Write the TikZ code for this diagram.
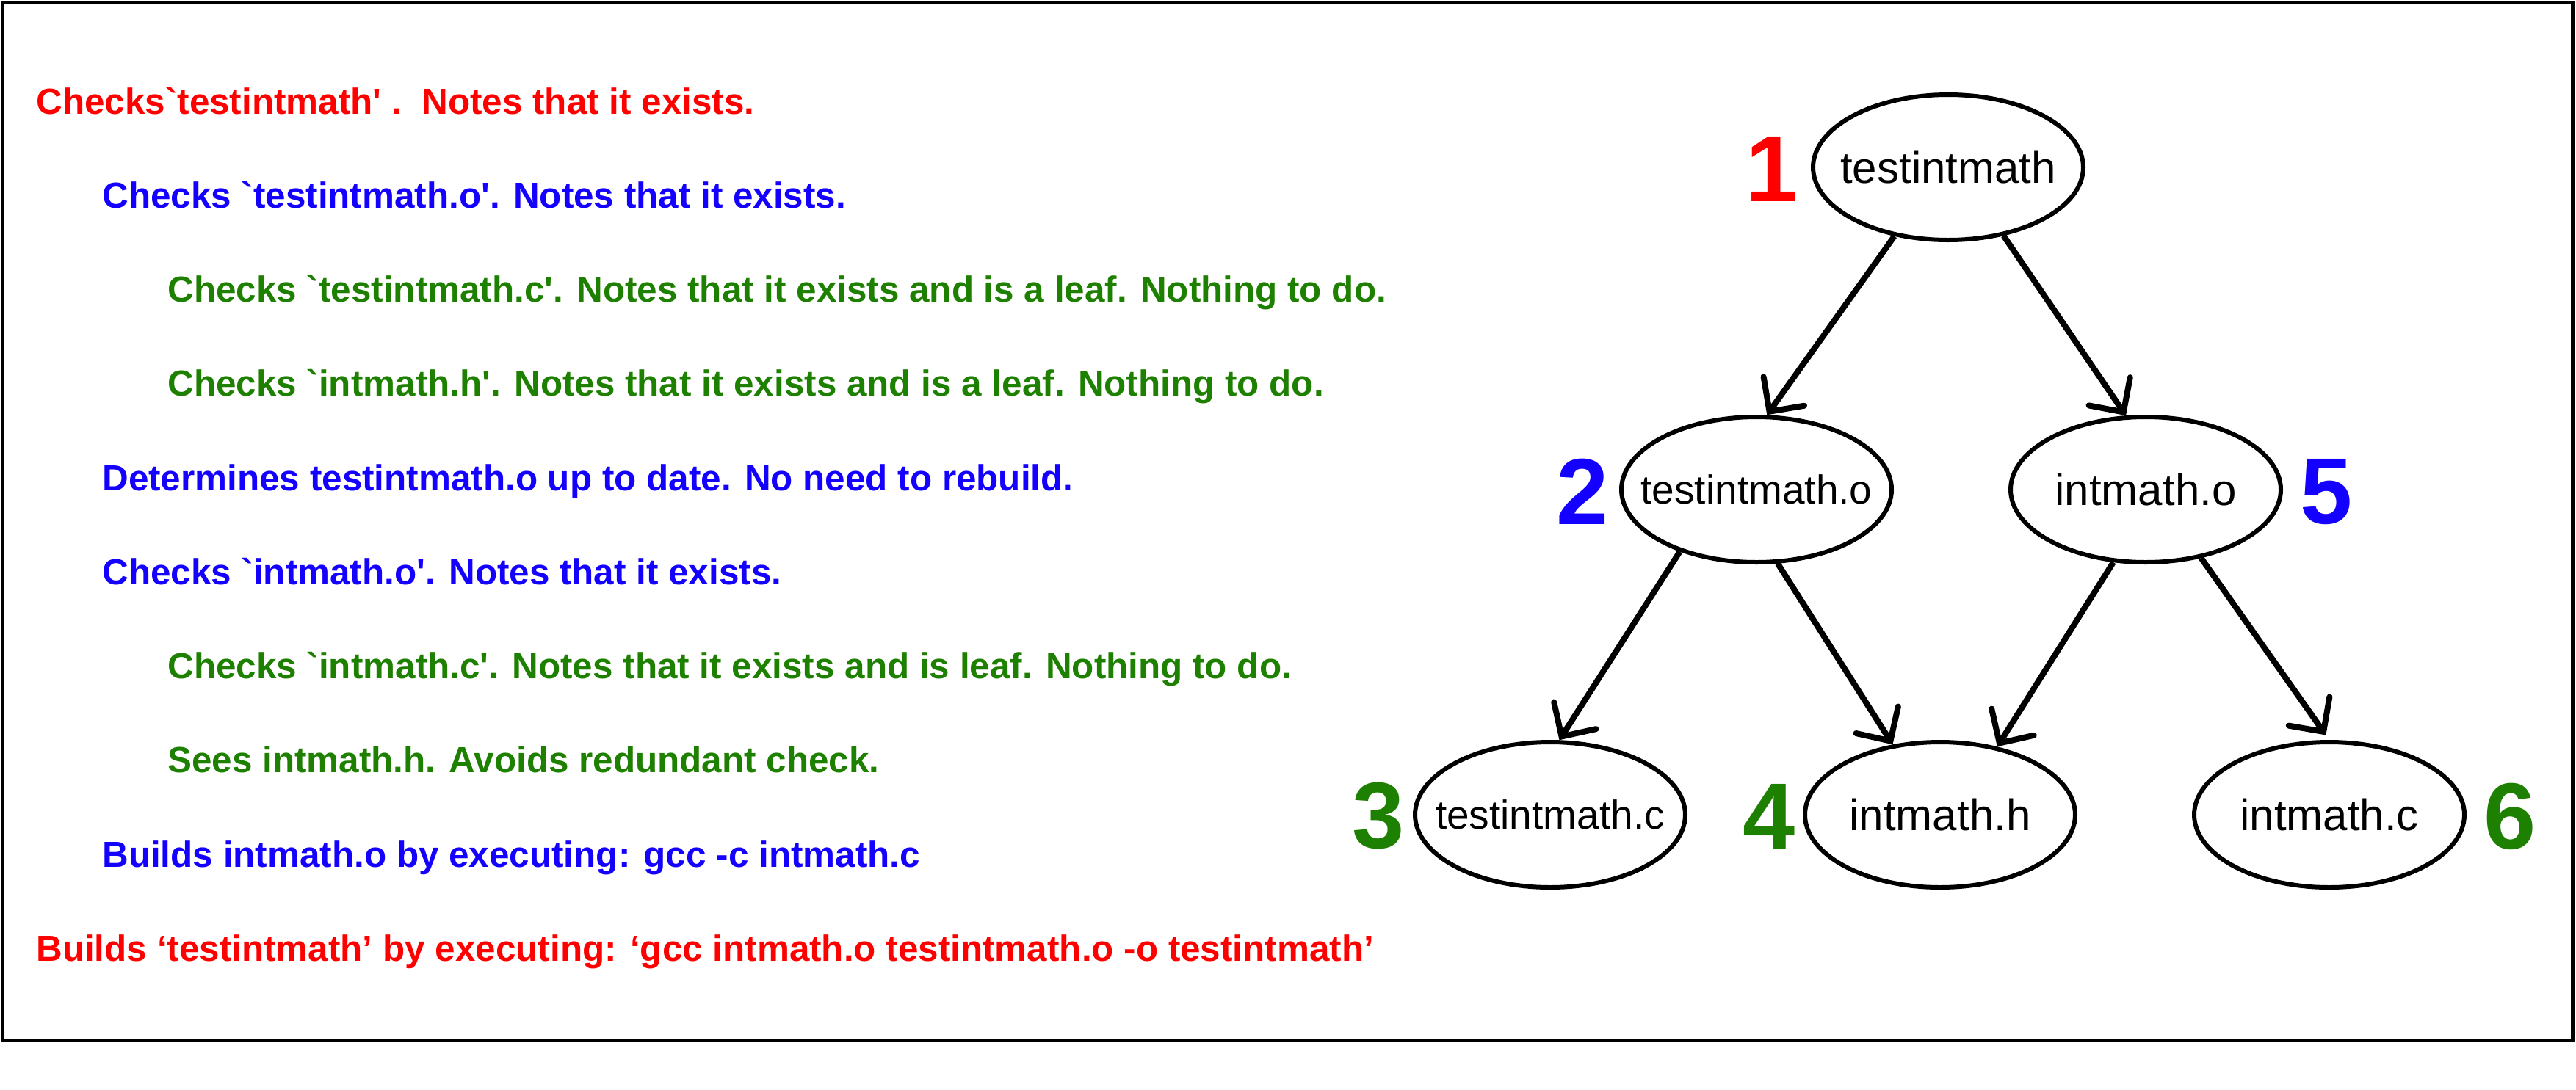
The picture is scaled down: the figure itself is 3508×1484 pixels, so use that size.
\documentclass[tikz,border=0pt]{standalone}
\usepackage{fontspec}
\setmainfont{Liberation Sans}[Ligatures=TeXOff]
\usetikzlibrary{arrows.meta,shapes.geometric}
\definecolor{cred}{RGB}{255,0,0}
\definecolor{cblue}{RGB}{20,0,255}
\definecolor{cgreen}{RGB}{30,128,0}
\begin{document}
\begin{tikzpicture}[x=0.5pt,y=-0.5pt,
  msg/.style={font=\fontsize{24.7}{29}\selectfont\bfseries, anchor=base west, inner sep=0pt},
  file/.style={ellipse, draw, line width=3pt, minimum width=184pt, minimum height=99pt, inner sep=0pt, font=\fontsize{30}{36}\selectfont},
  smallfile/.style={file, font=\fontsize{27.5}{33}\selectfont},
  num/.style={font=\fontsize{64}{64}\selectfont\bfseries, inner sep=0pt},
  arr/.style={line width=4pt, -{Straight Barb[length=17pt,width=34pt,line cap=round]}}]
\useasboundingbox (0,0) rectangle (3508,1484);
\draw[line width=2.5pt] (3,3) rectangle (3503,1417);

% messages
\node[msg, text=cred]   (m1)  at (49,155)   {Checks`testintmath' .\ \ Notes that it exists.};
\node[msg, text=cblue]  (m2)  at (139,283)  {Checks `testintmath.o'. Notes that it exists.};
\node[msg, text=cgreen] (m3)  at (228,411)  {Checks `testintmath.c'. Notes that it exists and is a leaf. Nothing to do.};
\node[msg, text=cgreen] (m4)  at (228,539)  {Checks `intmath.h'. Notes that it exists and is a leaf. Nothing to do.};
\node[msg, text=cblue]  (m5)  at (139,668)  {Determines testintmath.o up to date. No need to rebuild.};
\node[msg, text=cblue]  (m6)  at (139,796)  {Checks `intmath.o'. Notes that it exists.};
\node[msg, text=cgreen] (m7)  at (228,924)  {Checks `intmath.c'. Notes that it exists and is leaf. Nothing to do.};
\node[msg, text=cgreen] (m8)  at (228,1052) {Sees intmath.h. Avoids redundant check.};
\node[msg, text=cblue]  (m9)  at (139,1181) {Builds intmath.o by executing: gcc -c intmath.c};
\node[msg, text=cred]   (m10) at (49,1309)  {Builds ‘testintmath’ by executing: ‘gcc intmath.o testintmath.o -o testintmath’};

% tree
\node[file]      (n1) at (2653,228)  {\makebox[0pt]{testintmath}};
\node[smallfile] (n2) at (2392,667)  {\makebox[0pt]{testintmath.o}};
\node[file]      (n5) at (2922,667)  {\makebox[0pt]{intmath.o}};
\node[smallfile] (n3) at (2111,1110) {\makebox[0pt]{testintmath.c}};
\node[file]      (n4) at (2642,1110) {\makebox[0pt]{intmath.h}};
\node[file]      (n6) at (3172,1110) {\makebox[0pt]{intmath.c}};

\node[num, text=cred]   (k1) at (2413,230)  {1};
\node[num, text=cblue]  (k2) at (2155,670)  {2};
\node[num, text=cblue]  (k5) at (3168,670)  {5};
\node[num, text=cgreen] (k3) at (1877,1112) {3};
\node[num, text=cgreen] (k4) at (2409,1112) {4};
\node[num, text=cgreen] (k6) at (3418,1112) {6};

\draw[arr] (n1.232) -- (n2.82);
\draw[arr] (n1.309) -- (n5.105);
\draw[arr] (n2.219) -- (n3.83);
\draw[arr] (n2.286) -- (n4.124);
\draw[arr] (n5.246) -- (n4.50);
\draw[arr, shorten >=4pt] (n5.309) -- (n6.90);
\end{tikzpicture}
\end{document}
